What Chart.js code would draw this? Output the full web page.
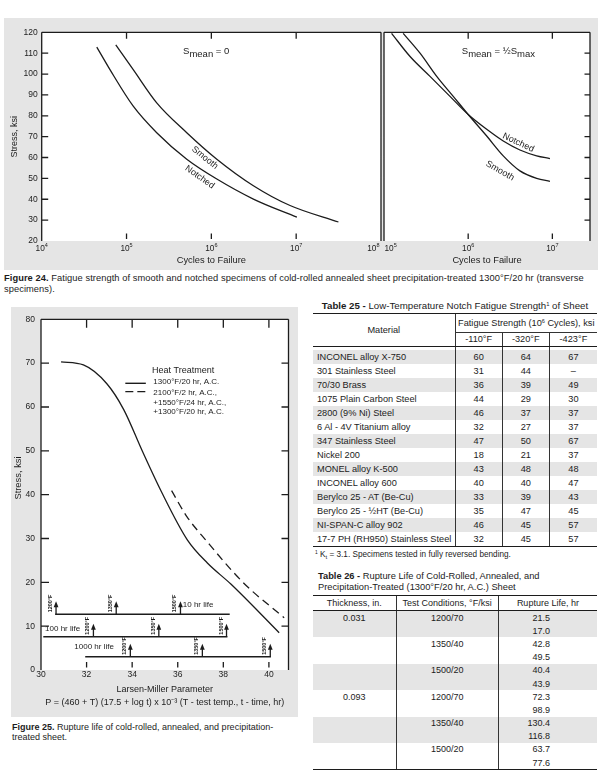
<!DOCTYPE html>
<html>
<head>
<meta charset="utf-8">
<title>Figures 24-25, Tables 25-26</title>
<script src="https://cdn.jsdelivr.net/npm/chart.js@4.4.1/dist/chart.umd.min.js"></script>
<style>
  body { margin:0; background:#fff; font-family:"Liberation Sans", Arial, sans-serif; color:#1c1c1c; }
  #page { position:relative; width:601px; height:772px; overflow:hidden; }
  .panel { position:absolute; background:#e5e5e5; }
  canvas { position:absolute; }
  .cap { position:absolute; font-size:9.2px; line-height:11px; white-space:nowrap; }
  .ttl { position:absolute; font-size:9.3px; line-height:11px; white-space:nowrap; }
  .foot { position:absolute; font-size:8.2px; line-height:9px; white-space:nowrap; }
  sup { font-size:0.6em; vertical-align:0.6em; line-height:0; }
  sub { font-size:0.75em; vertical-align:-0.25em; line-height:0; }
  table { position:absolute; border-collapse:collapse; table-layout:fixed; font-size:9.2px; }
  th, td { padding:0; font-weight:normal; white-space:nowrap; text-align:center; }
  .vl { border-left:1px solid #333; }
  .sh td { background:#e5e5e5; }

  #t25 { left:313px; top:312.5px; width:284px; }
  #t25 thead tr.h1 th { border-top:1.5px solid #1c1c1c; height:18px; }
  #t25 thead tr.h2 th { height:13.5px; }
  #t25 th.grp { border-bottom:1px solid #333; }
  #t25 thead tr.h2 th, #t25 th.mat { border-bottom:1.5px solid #1c1c1c; }
  #t25 tr.gap td { height:3.4px; }
  #t25 tbody tr.r td { height:13.95px; }
  #t25 td.name { text-align:left; padding-left:4px; }
  #t25 tbody tr:last-child td { border-bottom:1.5px solid #1c1c1c; }

  #t26 { left:313px; top:594.5px; width:284px; font-size:9px; }
  #t26 thead th { border-top:1.5px solid #1c1c1c; border-bottom:1.2px solid #1c1c1c; height:14.5px; }
  #t26 tbody td { height:13.2px; }
  #t26 td.life { text-align:right; padding-right:47px; }
  #t26 tbody tr:last-child td { border-bottom:1.5px solid #1c1c1c; }
</style>
</head>
<body>
<div id="page">
  <div class="panel" style="left:4px;top:18px;width:594px;height:252px"></div>
  <canvas id="fig24a" width="378" height="252" style="left:4px;top:18px"></canvas>
  <canvas id="fig24b" width="215" height="252" style="left:383px;top:18px"></canvas>
  <div class="cap" style="left:4px;top:273px;font-size:9.3px;letter-spacing:0.07px"><b>Figure 24.</b> Fatigue strength of smooth and notched specimens of cold-rolled annealed sheet precipitation-treated 1300°F/20 hr (transverse<br>specimens).</div>

  <div class="panel" style="left:11px;top:307px;width:287px;height:410px"></div>
  <canvas id="fig25" width="287" height="410" style="left:11px;top:307px"></canvas>
  <div class="cap" style="left:12px;top:722px;line-height:10.4px;font-size:9px"><b>Figure 25.</b> Rupture life of cold-rolled, annealed, and precipitation-<br>treated sheet.</div>

  <div class="ttl" style="left:313px;top:300px;width:284px;text-align:center;font-size:9.7px"><b>Table 25 -</b> Low-Temperature Notch Fatigue Strength<sup>1</sup> of Sheet</div>
  <table id="t25">
    <colgroup><col style="width:142px"><col style="width:47.3px"><col style="width:47px"><col style="width:47.7px"></colgroup>
    <thead>
      <tr class="h1"><th class="mat" rowspan="2">Material</th><th class="vl grp" colspan="3">Fatigue Strength (10<sup>6</sup> Cycles), ksi</th></tr>
      <tr class="h2" id="t25temps"></tr>
    </thead>
    <tbody id="t25body"></tbody>
  </table>
  <div class="foot" style="left:315px;top:549.5px"><sup>1</sup> K<sub>t</sub> = 3.1. Specimens tested in fully reversed bending.</div>

  <div class="ttl" style="left:318px;top:571px"><b>Table 26 -</b> Rupture Life of Cold-Rolled, Annealed, and<br>Precipitation-Treated (1300°F/20 hr, A.C.) Sheet</div>
  <table id="t26">
    <colgroup><col style="width:83px"><col style="width:102.3px"><col style="width:98.7px"></colgroup>
    <thead><tr><th>Thickness, in.</th><th class="vl">Test Conditions, °F/ksi</th><th class="vl">Rupture Life, hr</th></tr></thead>
    <tbody id="t26body"></tbody>
  </table>
</div>

<script>
// ---------- Figure 24: stress (ksi) vs cycles to failure ----------
const stressTicks24 = [30, 40, 50, 60, 70, 80, 90, 100, 110];
const stressLabels24 = [20, 30, 40, 50, 60, 70, 80, 90, 100, 110, 120];
const cycleTicksLeft = [1e4, 1e5, 1e6, 1e7, 1e8];
const cycleTicksRight = [1e5, 1e6, 1e7];

// S mean = 0
const smooth0Cycles = [7.47e4, 1.2e5, 2.27e5, 5.13e5, 1.16e6, 3.13e6, 8.47e6, 3.15e7];
const smooth0Stress = [114.0, 102.1, 86.2, 71.9, 59.2, 46.5, 37.0, 29.1];
const notched0Cycles = [4.46e4, 6.38e4, 1.2e5, 2.27e5, 5.13e5, 1.16e6, 3.13e6, 1.02e7];
const notched0Stress = [112.9, 102.1, 84.6, 71.9, 59.2, 49.7, 40.1, 31.4];

// S mean = 1/2 S max
const smoothHalfCycles = [1.69e5, 2.68e5, 4.23e5, 6.65e5, 1.0e6, 1.66e6, 2.61e6, 4.12e6, 6.51e6, 9.36e6];
const smoothHalfStress = [119.5, 110.0, 98.9, 89.3, 80.6, 70.3, 60.8, 53.6, 50.0, 48.6];
const notchedHalfCycles = [1.23e5, 2.04e5, 3.52e5, 6.08e5, 1.0e6, 1.66e6, 2.61e6, 4.12e6, 6.51e6, 9.36e6];
const notchedHalfStress = [119.5, 108.4, 98.9, 89.3, 80.6, 73.5, 67.9, 63.6, 60.8, 59.5];

// ---------- Figure 25: stress (ksi) vs Larsen-Miller parameter ----------
const lmpTicks = [30, 32, 34, 36, 38, 40];
const lmpInnerTicks = [32, 34, 36, 38, 40];
const stressTicks25 = [0, 10, 20, 30, 40, 50, 60, 70, 80];
const stressInnerTicks25 = [10, 20, 30, 40, 50, 60, 70];

const agedP = [30.88, 31.86, 32.89, 33.63, 34.44, 35.29, 36.42, 37.3, 38.33, 40.45];
const agedStress = [70.3, 69.6, 65.3, 59.4, 50.0, 40.6, 29.7, 24.4, 19.6, 8.5];
const solutionP = [35.73, 36.4, 37.22, 38.9, 40.67];
const solutionStress = [40.9, 35.0, 29.7, 19.8, 11.9];

const heatTreatments = ['1300°F/20 hr, A.C.', '2100°F/2 hr, A.C.,', '+1550°F/24 hr, A.C.,', '+1300°F/20 hr, A.C.'];

const lifeNames = ['10 hr life', '100 hr life', '1000 hr life'];
const lifeStress = [12.7, 7.6, 3.0];
const lifeStartP = [30.62, 30.10, 31.94];
const lifeEndP = [38.28, 38.18, 40.09];
const lifeArrowP = [[30.66, 33.30, 36.12], [32.30, 35.17, 38.14], [33.92, 37.08, 40.06]];
const arrowTemps = ['1200°F', '1350°F', '1500°F'];

// ---------- Table 25 ----------
const materials = ['INCONEL alloy X-750', '301 Stainless Steel', '70/30 Brass', '1075 Plain Carbon Steel',
  '2800 (9% Ni) Steel', '6 Al - 4V Titanium alloy', '347 Stainless Steel', 'Nickel 200', 'MONEL alloy K-500',
  'INCONEL alloy 600', 'Berylco 25 - AT (Be-Cu)', 'Berylco 25 - ½HT (Be-Cu)', 'NI-SPAN-C alloy 902',
  '17-7 PH (RH950) Stainless Steel'];
const testTemps = ['-110°F', '-320°F', '-423°F'];
const fatigue110 = [60, 31, 36, 44, 46, 32, 47, 18, 43, 40, 33, 35, 46, 32];
const fatigue320 = [64, 44, 39, 29, 37, 27, 50, 21, 48, 40, 39, 47, 45, 45];
const fatigue423 = [67, null, 49, 30, 37, 37, 67, 37, 48, 47, 43, 45, 57, 57];

// ---------- Table 26 ----------
const thicknesses = ['0.031', '0.093'];
const testConditions = ['1200/70', '1350/40', '1500/20'];
const ruptureLife = [21.5, 17.0, 42.8, 49.5, 40.4, 43.9, 72.3, 98.9, 130.4, 116.8, 63.7, 77.6];

// ================= tables =================
document.getElementById('t25temps').innerHTML = testTemps.map(t => `<th class="vl">${t}</th>`).join('');
let html = '<tr class="gap"><td></td><td class="vl"></td><td class="vl"></td><td class="vl"></td></tr>';
materials.forEach((m, i) => {
  const cells = [fatigue110[i], fatigue320[i], fatigue423[i]].map(v => `<td class="vl">${v === null ? '–' : v}</td>`).join('');
  html += `<tr class="r${i % 2 === 0 ? ' sh' : ''}"><td class="name">${m}</td>${cells}</tr>`;
});
document.getElementById('t25body').innerHTML = html;

html = '';
let k = 0;
thicknesses.forEach(th => {
  testConditions.forEach((tc, j) => {
    for (let s = 0; s < 2; s++) {
      const shade = (k >> 1) % 2 === 0 ? ' class="sh"' : '';
      html += `<tr${shade}><td>${j === 0 && s === 0 ? th : ''}</td><td class="vl">${s === 0 ? tc : ''}</td>` +
        `<td class="vl life">${ruptureLife[k].toFixed(1)}</td></tr>`;
      k++;
    }
  });
});
document.getElementById('t26body').innerHTML = html;

// ================= charts =================
const INK = '#1c1c1c';
const FONT = "'Liberation Sans', Arial, sans-serif";
Chart.defaults.font.family = FONT;
Chart.defaults.color = INK;

function pts(xs, ys) { return xs.map((x, i) => ({ x, y: ys[i] })); }

function curve(label, xs, ys, dash) {
  return { label, data: pts(xs, ys), borderColor: INK, borderWidth: 1.3, borderDash: dash || [],
    pointRadius: 0, fill: false, cubicInterpolationMode: 'monotone' };
}

function setTicks(values) { return scale => { scale.ticks = values.map(v => ({ value: v })); }; }

function text(ctx, str, x, y, size, opts = {}) {
  ctx.save();
  ctx.font = `${opts.bold ? 'bold ' : ''}${size}px ${FONT}`;
  ctx.fillStyle = INK;
  ctx.textAlign = opts.align || 'left';
  ctx.textBaseline = 'middle';
  ctx.translate(x, y);
  if (opts.angle) ctx.rotate(opts.angle * Math.PI / 180);
  ctx.fillText(str, 0, 0);
  ctx.restore();
}

// text with lowered pieces (S_mean, S_max)
function richText(ctx, parts, x, y, size) {
  ctx.save();
  ctx.font = `${size}px ${FONT}`;
  ctx.fillStyle = INK;
  ctx.textBaseline = 'middle';
  let cx = x;
  parts.forEach(p => { ctx.fillText(p.t, cx, y + (p.dy || 0)); cx += ctx.measureText(p.t).width; });
  ctx.restore();
}

// white plot area, box lines and inward ticks
function framePlugin(cfg) {
  return {
    id: 'frame',
    beforeDraw(chart) {
      const { ctx, chartArea: a } = chart;
      ctx.save();
      ctx.fillStyle = '#fff';
      ctx.fillRect(a.left, a.top, a.right - a.left, a.bottom - a.top);
      ctx.restore();
    },
    afterDatasetsDraw(chart) {
      const { ctx, chartArea: a, scales } = chart;
      ctx.save();
      ctx.strokeStyle = INK;
      ctx.lineWidth = 1.3;
      ctx.beginPath();
      if (cfg.sides.includes('left')) { ctx.moveTo(a.left, a.bottom); ctx.lineTo(a.left, a.top); }
      if (cfg.sides.includes('top')) { ctx.moveTo(a.left, a.top); ctx.lineTo(a.right, a.top); }
      if (cfg.sides.includes('right')) { ctx.moveTo(a.right, a.top); ctx.lineTo(a.right, a.bottom); }
      cfg.ticks.forEach(t => {
        const sc = scales[t.axis];
        t.values.forEach(v => {
          const p = sc.getPixelForValue(v);
          if (t.side === 'left') { ctx.moveTo(a.left, p); ctx.lineTo(a.left + t.len, p); }
          if (t.side === 'right') { ctx.moveTo(a.right, p); ctx.lineTo(a.right - t.len, p); }
          if (t.side === 'top') { ctx.moveTo(p, a.top); ctx.lineTo(p, a.top + t.len); }
          if (t.side === 'bottom') { ctx.moveTo(p, a.bottom - t.gap); ctx.lineTo(p, a.bottom - t.gap - t.len); }
        });
      });
      ctx.stroke();
      ctx.restore();
    }
  };
}

// 10^n labels under a log axis
function powerLabels(values, firstAlign, lastAlign) {
  return {
    id: 'powLabels',
    afterDraw(chart) {
      const { ctx, chartArea: a, scales: { x } } = chart;
      ctx.save();
      ctx.fillStyle = INK;
      values.forEach((v, i) => {
        const exp = String(Math.round(Math.log10(v)));
        ctx.font = `8.3px ${FONT}`;
        const wb = ctx.measureText('10').width;
        ctx.font = `5.5px ${FONT}`;
        const w = wb + ctx.measureText(exp).width;
        const px = x.getPixelForValue(v);
        const align = i === 0 ? firstAlign : (i === values.length - 1 ? lastAlign : 'center');
        let left = px - w / 2;
        if (align === 'left') left = px + 0.5;
        if (align === 'right') left = px - w - 1.5;
        ctx.font = `8.3px ${FONT}`;
        ctx.fillText('10', left, a.bottom + 9.5);
        ctx.font = `5.5px ${FONT}`;
        ctx.fillText(exp, left + wb, a.bottom + 6);
      });
      ctx.restore();
    }
  };
}

function fig24Options(yVisible, xMin, xMax, padLeft, padRight) {
  return {
    responsive: false, animation: false, devicePixelRatio: 1,
    layout: { padding: { left: padLeft, top: 14.3, right: padRight, bottom: 0 } },
    plugins: { legend: { display: false }, tooltip: { enabled: false } },
    scales: {
      x: {
        type: 'logarithmic', min: xMin, max: xMax,
        grid: { display: false, drawTicks: false }, border: { display: false },
        ticks: { display: false },
        afterFit: s => { s.height = 29; },
        title: { display: true, text: 'Cycles to Failure', font: { size: 9.3 }, padding: { top: 0, bottom: 3.7 } }
      },
      y: {
        display: yVisible, min: 20, max: 120,
        grid: { display: false, drawTicks: false }, border: { display: false },
        afterBuildTicks: setTicks(stressLabels24),
        ticks: { font: { size: 8.5 }, padding: 4 },
        afterFit: s => { s.width = yVisible ? 37.7 : 0; },
        title: { display: true, text: 'Stress, ksi', font: { size: 9 }, padding: { top: 5.5, bottom: 0 } }
      }
    }
  };
}

// --- Figure 24, S mean = 0 ---
new Chart(document.getElementById('fig24a'), {
  type: 'line',
  data: { datasets: [
    curve('Smooth', smooth0Cycles, smooth0Stress),
    curve('Notched', notched0Cycles, notched0Stress)
  ] },
  options: fig24Options(true, 1e4, 1e8, 0, 1),
  plugins: [
    framePlugin({ sides: ['left', 'top', 'right'], ticks: [
      { axis: 'y', side: 'left', values: stressTicks24, len: 6.5 },
      { axis: 'x', side: 'top', values: cycleTicksLeft.slice(1, 4), len: 6.5 },
      { axis: 'x', side: 'bottom', values: cycleTicksLeft.slice(1, 4), len: 5.5, gap: 2 }
    ] }),
    powerLabels(cycleTicksLeft, 'center', 'right'),
    { id: 'notes24a', afterDraw(chart) {
      const { ctx, scales: { x, y } } = chart;
      richText(ctx, [{ t: 'S' }, { t: 'mean', dy: 2.5 }, { t: ' = 0' }], x.getPixelForValue(4.64e5), y.getPixelForValue(110.8), 9.5);
      text(ctx, 'Smooth', x.getPixelForValue(8.4e5), y.getPixelForValue(59.9), 9, { align: 'center', angle: 39 });
      text(ctx, 'Notched', x.getPixelForValue(7.3e5), y.getPixelForValue(50.6), 9, { align: 'center', angle: 35 });
    } }
  ]
});

// --- Figure 24, S mean = 1/2 S max ---
new Chart(document.getElementById('fig24b'), {
  type: 'line',
  data: { datasets: [
    curve('Smooth', smoothHalfCycles, smoothHalfStress),
    curve('Notched', notchedHalfCycles, notchedHalfStress)
  ] },
  options: fig24Options(false, 1e5, 2.8e7, 1, 8),
  plugins: [
    framePlugin({ sides: ['left', 'top', 'right'], ticks: [
      { axis: 'y', side: 'right', values: stressTicks24, len: 5.5 },
      { axis: 'x', side: 'top', values: cycleTicksRight.slice(1), len: 6.5 },
      { axis: 'x', side: 'bottom', values: cycleTicksRight.slice(1), len: 5.5, gap: 2 }
    ] }),
    powerLabels(cycleTicksRight, 'left', 'center'),
    { id: 'notes24b', afterDraw(chart) {
      const { ctx, scales: { x, y } } = chart;
      richText(ctx, [{ t: 'S' }, { t: 'mean', dy: 2.5 }, { t: ' = ½S' }, { t: 'max', dy: 2.5 }],
        x.getPixelForValue(8.4e5), y.getPixelForValue(110.8), 9.5);
      text(ctx, 'Notched', x.getPixelForValue(3.94e6), y.getPixelForValue(67.1), 9, { align: 'center', angle: 25 });
      text(ctx, 'Smooth', x.getPixelForValue(2.39e6), y.getPixelForValue(53.6), 9, { align: 'center', angle: 30 });
    } }
  ]
});

// --- Figure 25 ---
const lifeLines = lifeNames.map((n, i) => ({
  label: n, data: [{ x: lifeStartP[i], y: lifeStress[i] }, { x: lifeEndP[i], y: lifeStress[i] }],
  borderColor: INK, borderWidth: 1.5, pointRadius: 0, fill: false
}));

new Chart(document.getElementById('fig25'), {
  type: 'line',
  data: { datasets: [
    curve(heatTreatments[0], agedP, agedStress),
    curve(heatTreatments.slice(1).join(' '), solutionP, solutionStress, [8, 5]),
    ...lifeLines
  ] },
  options: {
    responsive: false, animation: false, devicePixelRatio: 1,
    layout: { padding: { left: 0, top: 12.3, right: 9.5, bottom: 0 } },
    plugins: { legend: { display: false }, tooltip: { enabled: false } },
    scales: {
      x: {
        type: 'linear', min: 30, max: 40.86,
        grid: { display: false, drawTicks: false }, border: { display: false },
        afterBuildTicks: setTicks(lmpTicks),
        ticks: { font: { size: 8.5 }, padding: 0, autoSkip: false, maxRotation: 0 },
        afterFit: s => { s.height = 47; },
        title: { display: true, font: { size: 9, lineHeight: 1.37 }, padding: { top: 0, bottom: 8.5 },
          text: ['Larsen-Miller Parameter', 'P = (460 + T) (17.5 + log t) x 10⁻³ (T - test temp., t - time, hr)'] }
      },
      y: {
        min: 0, max: 80,
        grid: { display: false, drawTicks: false }, border: { display: false },
        afterBuildTicks: setTicks(stressTicks25),
        ticks: { font: { size: 8.5 }, padding: 6 },
        afterFit: s => { s.width = 30; }
      }
    }
  },
  plugins: [
    framePlugin({ sides: ['left', 'top', 'right'], ticks: [
      { axis: 'y', side: 'left', values: stressInnerTicks25, len: 8 },
      { axis: 'y', side: 'right', values: stressInnerTicks25, len: 7 },
      { axis: 'x', side: 'top', values: lmpInnerTicks, len: 8.5 },
      { axis: 'x', side: 'bottom', values: lmpInnerTicks, len: 5.5, gap: 2.5 }
    ] }),
    { id: 'notes25', afterDraw(chart) {
      const { ctx, scales: { x, y } } = chart;
      // axis title
      text(ctx, 'Stress, ksi', 7, 171, 9.4, { align: 'center', angle: -90 });

      // legend
      text(ctx, 'Heat Treatment', x.getPixelForValue(34.87), y.getPixelForValue(68.4), 9);
      ctx.save();
      ctx.strokeStyle = INK;
      ctx.lineWidth = 1.4;
      ctx.beginPath();
      ctx.moveTo(x.getPixelForValue(33.7), y.getPixelForValue(65.4));
      ctx.lineTo(x.getPixelForValue(34.6), y.getPixelForValue(65.4));
      ctx.stroke();
      ctx.setLineDash([8, 4]);
      ctx.beginPath();
      ctx.moveTo(x.getPixelForValue(33.7), y.getPixelForValue(63.5));
      ctx.lineTo(x.getPixelForValue(34.6), y.getPixelForValue(63.5));
      ctx.stroke();
      ctx.restore();
      const legendY = [65.7, 63.3, 60.9, 58.8];
      heatTreatments.forEach((t, i) => text(ctx, t, x.getPixelForValue(34.93), y.getPixelForValue(legendY[i]), 8));

      // rupture-life lines: arrows and temperatures
      ctx.save();
      ctx.strokeStyle = INK;
      ctx.fillStyle = INK;
      ctx.lineWidth = 1.3;
      lifeArrowP.forEach((row, i) => {
        const ly = y.getPixelForValue(lifeStress[i]);
        row.forEach((p, j) => {
          const ax = x.getPixelForValue(p);
          ctx.beginPath();
          ctx.moveTo(ax, ly);
          ctx.lineTo(ax, ly - 8);
          ctx.stroke();
          ctx.beginPath();
          ctx.moveTo(ax, ly - 13);
          ctx.lineTo(ax - 2.4, ly - 7);
          ctx.lineTo(ax + 2.4, ly - 7);
          ctx.closePath();
          ctx.fill();
          text(ctx, arrowTemps[j], ax - 5.5, ly - 2, 5.5, { bold: true, angle: -90 });
        });
      });
      ctx.restore();
      text(ctx, lifeNames[0], x.getPixelForValue(36.22), y.getPixelForValue(14.8), 8);
      text(ctx, lifeNames[1], x.getPixelForValue(30.18), y.getPixelForValue(9.5), 8);
      text(ctx, lifeNames[2], x.getPixelForValue(33.2), y.getPixelForValue(5.3), 8, { align: 'right' });
    } }
  ]
});
</script>
</body>
</html>
